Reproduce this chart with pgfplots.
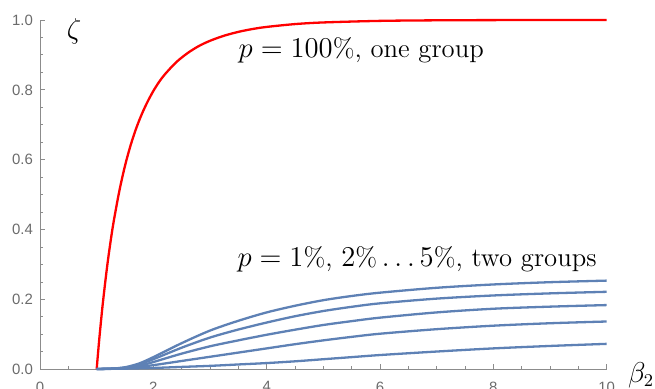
\documentclass[border=0pt]{standalone}
\usepackage{fontspec}
\setsansfont{Liberation Sans}
\usepackage{pgfplots}
\pgfplotsset{compat=1.18}
\definecolor{mblue}{rgb}{0.368417,0.506779,0.709798}
\definecolor{axgray}{gray}{0.55}
\definecolor{lblgray}{gray}{0.42}
\begin{document}
\begin{tikzpicture}
\begin{axis}[
  scale only axis,
  width=283.3bp, height=174.65bp,
  xmin=0, xmax=10, ymin=0, ymax=1,
  axis lines=left,
  axis line style={-, draw=axgray, line width=0.5bp},
  every tick/.style={draw=axgray, line width=0.5bp},
  tick align=inside,
  major tick length=2.6bp, minor tick length=1.6bp,
  xtick={0,2,4,6,8,10},
  ytick={0,0.2,0.4,0.6,0.8,1.0},
  minor x tick num=3, minor y tick num=3,
  /pgf/number format/assume math mode=true,
  yticklabel style={/pgf/number format/fixed, /pgf/number format/fixed zerofill, /pgf/number format/precision=1},
  tick label style={font=\sffamily\fontsize{7.5}{9}\selectfont, text=lblgray},
  xticklabel style={yshift=-2.6bp},
  clip=false,
]
\addplot[red, line width=1.15bp, smooth] coordinates {
(1,0) (1.02,0.039) (1.05,0.0937) (1.1,0.1761) (1.15,0.2481) (1.2,0.3137) (1.25,0.3714) (1.3,0.4231) (1.4,0.5107) (1.5,0.5828) (1.6,0.6420) (1.7,0.6911) (1.8,0.7320) (1.9,0.7667) (2,0.7968) (2.1,0.8224) (2.2,0.8438) (2.4,0.8786) (2.6,0.9048) (2.8,0.9252) (3,0.9405) (3.25,0.9551) (3.5,0.9660) (3.75,0.9742) (4,0.9802) (4.5,0.9883) (5,0.9930) (6,0.9975) (7,0.9991) (8,0.9997) (9,0.9999) (10,1.0)
};
\addplot[mblue, line width=1.15bp, smooth] coordinates {
(1,0.001)(1.25,0.002)(1.5,0.006)(1.75,0.017)(2,0.035)(2.5,0.075)(3,0.111)(3.5,0.139)(4,0.163)(4.5,0.182)(5,0.198)(5.5,0.210)(6,0.2195)(7,0.2335)(8,0.243)(9,0.2495)(10,0.254)
};
\addplot[mblue, line width=1.15bp, smooth] coordinates {
(1,0.001)(1.25,0.002)(1.5,0.005)(1.75,0.014)(2,0.029)(2.5,0.062)(3,0.091)(3.5,0.114)(4,0.134)(4.5,0.152)(5,0.167)(5.5,0.179)(6,0.189)(7,0.2025)(8,0.2115)(9,0.2175)(10,0.222)
};
\addplot[mblue, line width=1.15bp, smooth] coordinates {
(1,0.001)(1.25,0.002)(1.5,0.004)(1.75,0.010)(2,0.021)(2.5,0.045)(3,0.066)(3.5,0.083)(4,0.099)(4.5,0.1135)(5,0.127)(5.5,0.138)(6,0.148)(7,0.163)(8,0.1735)(9,0.1795)(10,0.184)
};
\addplot[mblue, line width=1.15bp, smooth] coordinates {
(1,0.001)(1.25,0.002)(1.5,0.003)(1.75,0.007)(2,0.012)(2.5,0.024)(3,0.036)(3.5,0.048)(4,0.060)(4.5,0.072)(5,0.083)(5.5,0.093)(6,0.102)(7,0.115)(8,0.125)(9,0.132)(10,0.137)
};
\addplot[mblue, line width=1.15bp, smooth] coordinates {
(1,0.001)(1.5,0.002)(2,0.004)(2.5,0.007)(3,0.010)(3.5,0.014)(4,0.018)(4.5,0.023)(5,0.029)(5.5,0.035)(6,0.041)(7,0.051)(8,0.060)(9,0.067)(10,0.073)
};
\node[anchor=base west, inner sep=0, font=\fontsize{13.4}{16}\selectfont] at (axis cs:3.5,0.894) {$p=100\%$, one group};
\node[anchor=base west, inner sep=0, font=\fontsize{13.4}{16}\selectfont] at (axis cs:3.48,0.293) {$p=1\%$, $2\%\ldots5\%$, two groups};
\node[inner sep=0, font=\fontsize{13.4}{16}\selectfont] at (axis cs:0.6,0.969) {$\zeta$};
\node[anchor=west, inner sep=0, font=\fontsize{13.4}{16}\selectfont, xshift=10.5bp, yshift=-3bp] at (axis cs:10,0) {$\beta_2$};
\end{axis}
\pgfresetboundingbox
\path[use as bounding box] ([xshift=-20bp,yshift=-9.35bp]current axis.south west) rectangle ([xshift=24.15bp,yshift=10bp]current axis.north east);
\end{tikzpicture}
\end{document}
